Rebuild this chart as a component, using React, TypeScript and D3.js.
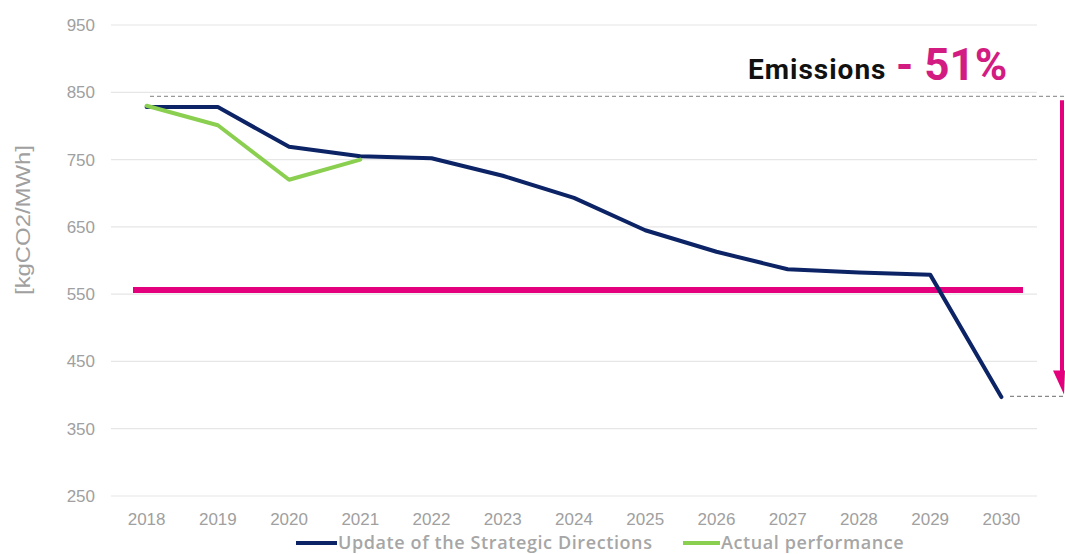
import React from "react";
import * as d3 from "d3";

const years = ["2018","2019","2020","2021","2022","2023","2024","2025","2026","2027","2028","2029","2030"];
const strategic = [828, 828, 769, 755, 752, 726, 693, 645, 613, 587, 582, 579, 397];
const actual = [830, 801, 720, 750];
const yTicks = [250, 350, 450, 550, 650, 750, 850, 950];
const targetLevel = 556;
const refTop = 844;
const refBottom = 398;
const legendItems = ["Update of the Strategic Directions", "Actual performance"];

const W = 1065, H = 554;
const BLUE = "#0C2466";
const GREEN = "#8BCF50";
const PINK = "#E4007D";

export default function App() {
  const x = d3.scaleBand().domain(years).range([111, 1037]);
  const y = d3.scaleLinear().domain([250, 950]).range([496, 25]);
  const cx = (d: string) => (x(d) as number) + x.bandwidth() / 2;

  const line = d3.line<number>().x((_, i) => cx(years[i])).y((v) => y(v));

  return (
    <svg width={W} height={H} style={{ position: "absolute", left: 0, top: 0, background: "#fff" }}>
      {yTicks.map((t) => (
        <g key={t}>
          <line x1={111} x2={1037} y1={y(t)} y2={y(t)} stroke="#e6e6e6" strokeWidth={1.2} />
          <text x={95} y={y(t)} dy="0.35em" textAnchor="end" fontFamily="Liberation Sans, Arial" fontSize={17} fill="#a0a0a0">{t}</text>
        </g>
      ))}
      {years.map((yr) => (
        <text key={yr} x={cx(yr)} y={525} textAnchor="middle" fontFamily="Liberation Sans, Arial" fontSize={17} fill="#a0a0a0">{yr}</text>
      ))}
      <text transform={`translate(30,220) rotate(-90)`} textAnchor="middle" fontFamily="Liberation Sans, Arial" fontSize={21} fill="#a0a0a0" textLength={150} lengthAdjust="spacingAndGlyphs">[kgCO2/MWh]</text>

      {/* reference dashed lines */}
      <line x1={150} x2={1065} y1={y(refTop)} y2={y(refTop)} stroke="#999" strokeWidth={1.3} strokeDasharray="4,3" />
      <line x1={1010} x2={1065} y1={y(refBottom)} y2={y(refBottom)} stroke="#888" strokeWidth={1.3} strokeDasharray="4,3" />

      {/* target line */}
      <line x1={133} x2={1023} y1={y(targetLevel)} y2={y(targetLevel)} stroke={PINK} strokeWidth={6} />

      <path d={line(strategic) || ""} fill="none" stroke={BLUE} strokeWidth={4} strokeLinejoin="round" strokeLinecap="round" />
      <path d={line(actual) || ""} fill="none" stroke={GREEN} strokeWidth={4} strokeLinejoin="round" strokeLinecap="round" />

      {/* arrow */}
      <line x1={1062} x2={1062} y1={y(refTop) + 4} y2={y(refBottom) - 22} stroke={PINK} strokeWidth={4} />
      <path d={`M1053,${y(refBottom) - 26} L1065,${y(refBottom) - 26} L1064,${y(refBottom) - 2} Z`} fill={PINK} />

      <text x={748} y={79} fontFamily="Roboto, Noto Sans, sans-serif" fontWeight={700} fontSize={28} letterSpacing={1} fill="#111">Emissions</text>
      <text x={896} y={80} fontFamily="Roboto, Noto Sans, sans-serif" fontWeight={700} fontSize={44} fill="#D31C82">- 51%</text>

      {/* legend */}
      <line x1={296} x2={337} y1={543} y2={543} stroke={BLUE} strokeWidth={4} />
      <text x={338} y={549} fontFamily="Open Sans, sans-serif" fontWeight={600} fontSize={18} letterSpacing={0.6} fill="#a6a6a6">{legendItems[0]}</text>
      <line x1={683} x2={720} y1={543} y2={543} stroke={GREEN} strokeWidth={4} />
      <text x={721} y={549} fontFamily="Open Sans, sans-serif" fontWeight={600} fontSize={18} letterSpacing={0.6} fill="#a6a6a6">{legendItems[1]}</text>
    </svg>
  );
}
